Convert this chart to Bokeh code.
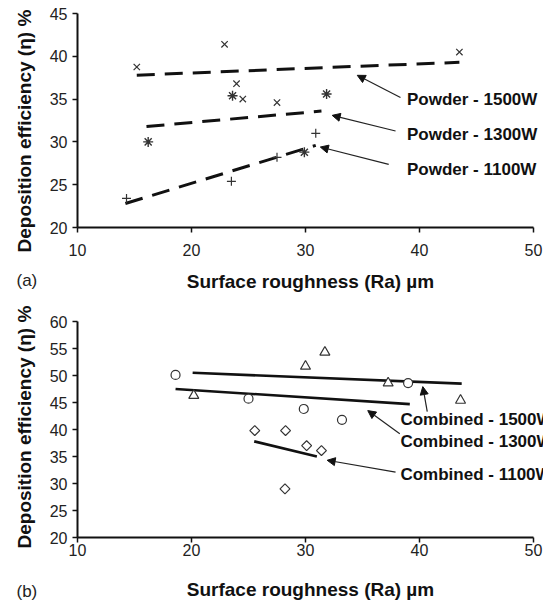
from bokeh.plotting import figure
from bokeh.layouts import column
from bokeh.models import Label, Arrow, NormalHead, Range1d, FixedTicker, Title
from bokeh.embed import file_html
from bokeh.resources import INLINE
import math

FONT = "Liberation Sans"

# ---------------- ticks ----------------
x_ticks = [10, 20, 30, 40, 50]
a_y_ticks = [20, 25, 30, 35, 40, 45]
b_y_ticks = [20, 25, 30, 35, 40, 45, 50, 55, 60]

# ---------------- data: panel (a) powder ----------------
a_1500_x = [15.2, 22.9, 23.95, 24.5, 27.5, 43.5]
a_1500_y = [38.75, 41.4, 36.8, 35.0, 34.6, 40.5]
a_1300_x = [16.2, 23.6, 29.9, 31.85]
a_1300_y = [30.0, 35.4, 28.8, 35.6]
a_1100_x = [14.3, 23.5, 27.5, 30.9]
a_1100_y = [23.4, 25.4, 28.2, 31.0]

a_fit_1500_x = [15.2, 43.5]
a_fit_1500_y = [37.8, 39.3]
a_fit_1300_x = [16.05, 31.4]
a_fit_1300_y = [31.8, 33.6]
a_fit_1100_x = [14.2, 30.9]
a_fit_1100_y = [22.8, 29.6]

a_labels = ["Powder - 1500W", "Powder - 1300W", "Powder - 1100W"]

# ---------------- data: panel (b) combined ----------------
b_1500_x = [20.2, 30.0, 31.7, 37.25, 43.6]
b_1500_y = [46.3, 51.7, 54.3, 48.6, 45.4]
b_1300_x = [18.6, 25.0, 29.85, 33.2, 39.0]
b_1300_y = [50.1, 45.7, 43.8, 41.8, 48.6]
b_1100_x = [25.55, 28.25, 30.1, 31.4, 28.2]
b_1100_y = [39.8, 39.8, 37.0, 36.1, 29.0]

b_fit_1500_x = [20.1, 43.7]
b_fit_1500_y = [50.5, 48.5]
b_fit_1300_x = [18.6, 39.15]
b_fit_1300_y = [47.5, 44.7]
b_fit_1100_x = [25.5, 31.0]
b_fit_1100_y = [37.8, 35.0]

b_labels = ["Combined - 1500W", "Combined - 1300W", "Combined - 1100W"]

X_TITLE = "Surface roughness (Ra) µm"
Y_TITLE = "Deposition efficiency (\u03b7) %"

# annotation placement (data units)
a_label_pos = [(38.9, 34.9), (38.9, 30.85), (38.9, 26.8)]
a_arrows = [((38.33, 35.18), (34.54, 37.78)),
            ((37.9, 31.27), (32.34, 33.1)),
            ((37.3, 27.37), (31.3, 29.4))]
b_label_pos = [(38.33, 41.9), (38.33, 37.8), (38.33, 31.7)]
b_arrows = [((40.68, 43.3), (40.29, 47.94)),
            ((38.27, 39.2), (35.46, 43.5)),
            ((37.9, 32.1), (31.9, 34.3))]

X_END = 50.877    # frame extends a little past 50 so the notes are not cut


def make_fig(h, top, bottom, y0, y1, yticks, tick_standoff, title_standoff,
             tag, tag_standoff, ytitle_offset):
    p = figure(width=543, height=h, x_range=Range1d(10, X_END), y_range=Range1d(y0, y1),
               output_backend="svg", toolbar_location=None, title=None,
               min_border_left=77, min_border_right=0,
               min_border_top=top, min_border_bottom=bottom)
    p.outline_line_color = None
    p.grid.visible = False
    p.xaxis.ticker = FixedTicker(ticks=x_ticks)
    p.xaxis.bounds = (10, 50)
    p.yaxis.ticker = FixedTicker(ticks=yticks)
    for ax in (p.xaxis[0], p.yaxis[0]):
        ax.axis_line_width = 2
        ax.axis_line_color = "#111111"
        ax.major_tick_line_width = 1.5
        ax.major_tick_line_color = "#111111"
        ax.major_tick_out = 5
        ax.major_tick_in = 0
        ax.minor_tick_out = 0
        ax.minor_tick_in = 0
        ax.major_label_text_font = FONT
        ax.major_label_text_font_size = "16px"
        ax.major_label_text_color = "#222222"
    p.xaxis.major_label_standoff = tick_standoff
    p.xaxis.axis_label = X_TITLE
    p.xaxis.axis_label_text_font = FONT
    p.xaxis.axis_label_text_font_style = "bold"
    p.xaxis.axis_label_text_color = "#111111"
    p.xaxis.axis_label_text_font_size = "19px"
    p.xaxis.axis_label_standoff = title_standoff
    p.yaxis.major_label_standoff = 5

    # panel tag "(a)" / "(b)": title row pulled up beside the axis title
    p.add_layout(Title(text=tag, align="left", vertical_align="top", offset=-61,
                       standoff=tag_standoff, text_font=FONT, text_font_size="17px",
                       text_font_style="normal", text_color="#222222"), "below")

    # rotated y title, starting a little below the frame bottom
    p.add_layout(Title(text=Y_TITLE, align="left", vertical_align="middle",
                       offset=ytitle_offset, standoff=22, text_font=FONT,
                       text_font_size="19px", text_font_style="bold",
                       text_color="#111111"), "left")
    return p


def add_notes(p, labels, pos, arrows):
    for t, (lx, ly) in zip(labels, pos):
        p.add_layout(Label(x=lx, y=ly, text=t, text_font=FONT, text_font_size="17px",
                           text_font_style="bold", text_align="left", text_baseline="middle",
                           text_color="#111111"))
    for (s, e) in arrows:
        p.add_layout(Arrow(end=NormalHead(size=8, fill_color="#111111", line_color="#111111"),
                           x_start=s[0], y_start=s[1], x_end=e[0], y_end=e[1],
                           line_color="#222222", line_width=1.2))


MC = "#333333"

# ---------------- panel (a) ----------------
pa = make_fig(300, 13, 73, 20, 45, a_y_ticks, 11, 12, "(a)", -48, -25)
dash = "18 10"
pa.line(a_fit_1500_x, a_fit_1500_y, line_width=3, line_color="#111111", line_dash=dash)
pa.line(a_fit_1300_x, a_fit_1300_y, line_width=3, line_color="#111111", line_dash=dash)
pa.line(a_fit_1100_x, a_fit_1100_y, line_width=3, line_color="#111111", line_dash=dash)
pa.scatter(a_1500_x, a_1500_y, marker="x", size=9, line_color=MC, line_width=1.2)
pa.scatter(a_1300_x, a_1300_y, marker="asterisk", size=10, line_color=MC, line_width=1.4)
pa.scatter(a_1100_x, a_1100_y, marker="cross", size=9, line_color=MC, line_width=1.2)
add_notes(pa, a_labels, a_label_pos, a_arrows)

# ---------------- panel (b) ----------------
pb = make_fig(305, 21, 68, 20, 60, b_y_ticks, 1, 20, "(b)", -42, -11)
pb.line(b_fit_1500_x, b_fit_1500_y, line_width=2.6, line_color="#111111")
pb.line(b_fit_1300_x, b_fit_1300_y, line_width=2.6, line_color="#111111")
pb.line(b_fit_1100_x, b_fit_1100_y, line_width=2.6, line_color="#111111")
pb.scatter(b_1500_x, b_1500_y, marker="triangle", size=10, line_color=MC, line_width=1.2,
           fill_color="white")
pb.scatter(b_1300_x, b_1300_y, marker="circle", size=9, line_color=MC, line_width=1.2,
           fill_color="white")
pb.scatter(b_1100_x, b_1100_y, marker="square", size=7, angle=math.pi / 4, line_color=MC,
           line_width=1.2, fill_color="white")
add_notes(pb, b_labels, b_label_pos, b_arrows)

layout = column(pa, pb, spacing=0)
open("out.html", "w").write(file_html(layout, INLINE))
